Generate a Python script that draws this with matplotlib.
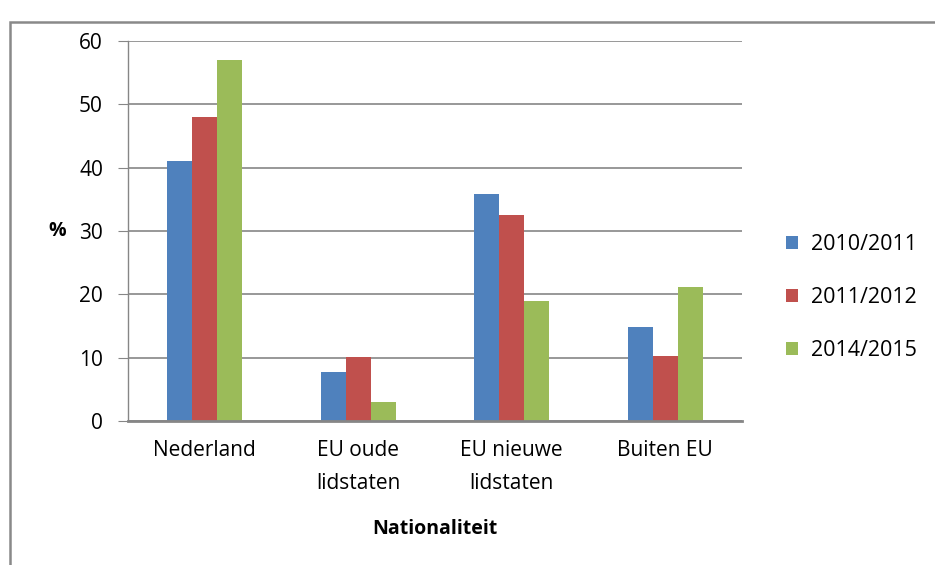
import matplotlib
matplotlib.use('Agg')
import matplotlib.pyplot as plt
import numpy as np
from matplotlib.patches import Rectangle

# Data
categories = ['Nederland', 'EU oude\nlidstaten', 'EU nieuwe\nlidstaten', 'Buiten EU']
series_names = ['2010/2011', '2011/2012', '2014/2015']
vals_2010 = [41, 7.8, 35.8, 14.9]
vals_2011 = [48, 10.1, 32.5, 10.2]
vals_2014 = [57, 3.0, 18.9, 21.1]
colors = ['#4F81BD', '#C0504D', '#9BBB59']

plt.rcParams['font.family'] = ['Open Sans', 'DejaVu Sans']

fig = plt.figure(figsize=(9.35, 5.65), dpi=100)
ax = fig.add_axes([128 / 935, 1 - 421 / 565, 614 / 935, 380 / 565])

x = np.arange(len(categories))
w = 0.163
for i, (vals, name) in enumerate(zip([vals_2010, vals_2011, vals_2014], series_names)):
    ax.bar(x + (i - 1) * w, vals, width=w, color=colors[i], label=name, zorder=3)

ax.set_xlim(-0.5, 3.5)
ax.set_ylim(0, 60)
ax.set_yticks(range(0, 61, 10))
ax.set_xticks(x)
ax.set_xticklabels(categories, fontsize=15, linespacing=1.75)
ax.tick_params(axis='y', labelsize=15, length=7, color='#868686', pad=11)
ax.tick_params(axis='x', length=0, pad=14)
ax.yaxis.grid(True, color='#868686', linewidth=1.2, zorder=0)

for s in ['top', 'right']:
    ax.spines[s].set_visible(False)
ax.spines['left'].set_color('#868686')
ax.spines['left'].set_linewidth(1.0)
ax.spines['bottom'].set_color('#868686')
ax.spines['bottom'].set_linewidth(2.0)
ax.spines['bottom'].set_zorder(4)

ax.set_ylabel('%', fontsize=14, fontweight='bold', rotation=0, labelpad=16, va='center')
ax.set_xlabel('Nationaliteit', fontsize=14, fontweight='bold', labelpad=18)

ax.legend(loc='center left', bbox_to_anchor=(1.04, 0.325), frameon=False, fontsize=15.5,
          labelspacing=1.5, handlelength=0.55, handleheight=0.55, handletextpad=0.6)

# outer chart frame
fig.patches.append(Rectangle((10 / 935, -0.05), 1.1, 1 - 22 / 565 + 0.05,
                             transform=fig.transFigure, fill=False,
                             edgecolor='#898989', linewidth=1.8))

fig.savefig('out.png', dpi=100)
